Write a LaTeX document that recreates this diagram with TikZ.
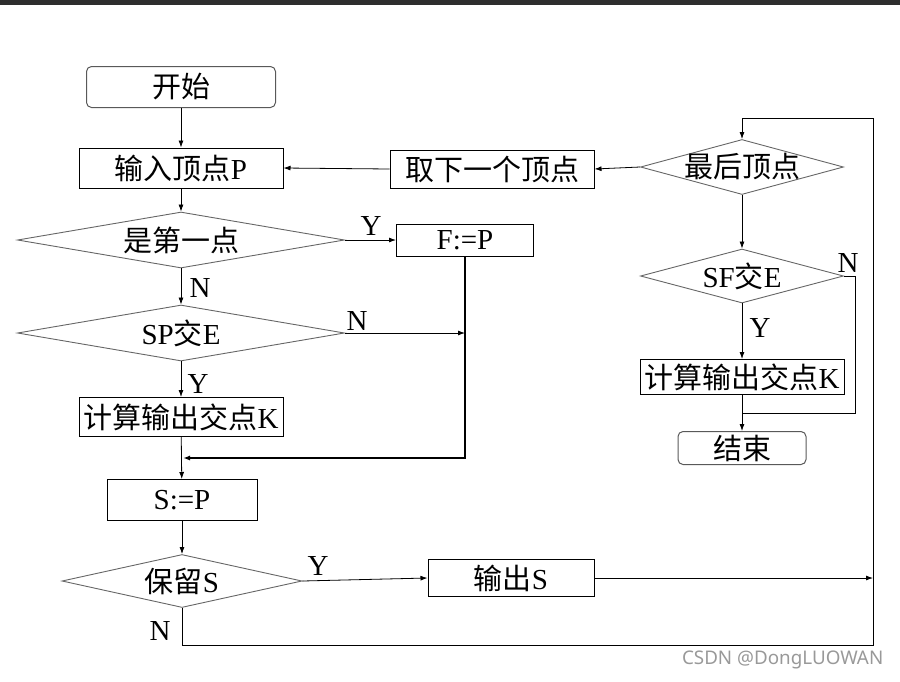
\documentclass[tikz,border=0pt]{standalone}
\usepackage{fontspec}
\setmainfont{Liberation Serif}
\newfontfamily\cjk{Noto Sans CJK SC}
\newfontfamily\markfont{Noto Sans}
\usetikzlibrary{shapes.geometric,arrows.meta}
\newcommand{\zh}[1]{{\cjk #1}}

\tikzset{
	procbox/.style={draw=black, line width=1pt, inner sep=0pt},
	termbox/.style={draw=black!65, line width=1pt, rounded corners=5pt, inner sep=0pt},
	decision/.style={diamond, draw=black!60, line width=0.9pt, aspect=4, inner xsep=-25pt, inner ysep=-8pt},
	lbl/.style={inner sep=0pt}
}

\begin{document}
\begin{tikzpicture}[x=1pt, y=-1pt, line width=0.8pt, >={Latex[length=7pt,width=5pt]},
		every node/.append style={font=\fontsize{29}{32}\selectfont}]
	\useasboundingbox (0,0) rectangle (900,681);
	\fill [black!82] (0,0) rectangle (900,5);

	% left column
	\node [termbox, minimum width=189pt, minimum height=41pt] (start) at (181,87) {\zh{开始}};
	\node [procbox, minimum width=204pt, minimum height=40pt] (input) at (181,168) {\zh{输入顶点}P};
	\node [decision, minimum width=327pt, minimum height=56pt] (first) at (181,240) {\zh{是第一点}};
	\node [procbox, minimum width=137pt, minimum height=32pt] (fp) at (465,240) {F:=P};
	\node [decision, minimum width=327pt, minimum height=56pt] (sp) at (181,333) {SP\zh{交}E};
	\node [procbox, minimum width=204pt, minimum height=39pt] (calcl) at (181,417) {\zh{计算输出交点}K};
	\node [procbox, minimum width=150pt, minimum height=41pt] (sassign) at (182,500) {S:=P};
	\node [decision, minimum width=240pt, minimum height=53pt] (keep) at (182,581) {\zh{保留}S};
	\node [procbox, minimum width=166pt, minimum height=37pt] (outs) at (511,578) {\zh{输出}S};

	% right column
	\node [procbox, minimum width=204pt, minimum height=38pt] (next) at (492,169) {\zh{取下一个顶点}};
	\node [decision, minimum width=203pt, minimum height=55pt] (last) at (742,167) {\zh{最后顶点}};
	\node [decision, minimum width=203pt, minimum height=54pt] (sf) at (742,276) {SF\zh{交}E};
	\node [procbox, minimum width=204pt, minimum height=35pt] (calcr) at (742,377) {\zh{计算输出交点}K};
	\node [termbox, minimum width=128pt, minimum height=33pt] (stop) at (742,448) {\zh{结束}};

	% labels
	\node [lbl] (yfirst) at (371,226) {Y};
	\node [lbl] (nfirst) at (200,288) {N};
	\node [lbl] (nsp) at (357,321) {N};
	\node [lbl] (ysp) at (198,384) {Y};
	\node [lbl] (ykeep) at (318,566) {Y};
	\node [lbl] (nkeep) at (160,631) {N};
	\node [lbl] (nsf) at (848,263) {N};
	\node [lbl] (ysf) at (760,328) {Y};

	\coordinate (spend) at (465,333);
	\coordinate (joinl) at (181,458);
	\coordinate (outend) at (873,578);
	\coordinate (bottomr) at (873,645);
	\coordinate (topr) at (873,118);
	\coordinate (sfturn) at (855,413);
	\coordinate (sfjoin) at (742,413);

	\draw [->] (start) -- (input);
	\draw [->] (next.west) -- (input.east);
	\draw [->] (last.west) -- (next.east);
	\draw [->] (input) -- (first);
	\draw [->] (first.east) -- (fp.west);
	\draw [->] (first) -- (sp);
	\draw [->] (sp.east) -- (spend);
	\draw [->, line width=1.5pt, shorten >=2pt] (fp.south) |- (joinl);
	\draw [->] (sp) -- (calcl);
	\draw [->] (calcl) -- (sassign);
	\draw [->] (sassign) -- (keep);
	\draw [->] (keep.east) -- (outs.west);
	\draw [->] (outs.east) -- (outend);
	\draw [->] (keep.south) |- (bottomr) -- (topr) -| (last.north);
	\draw [->] (last) -- (sf);
	\draw [->] (sf) -- (calcr);
	\draw [->] (calcr) -- (stop);
	\draw (sf.east) -| (sfturn) -- (sfjoin);

	\node [anchor=east, text=black!40, font=\markfont\fontsize{18.8}{22}\selectfont] (mark) at (887,660) {CSDN @DongLUOWAN};
\end{tikzpicture}
\end{document}
